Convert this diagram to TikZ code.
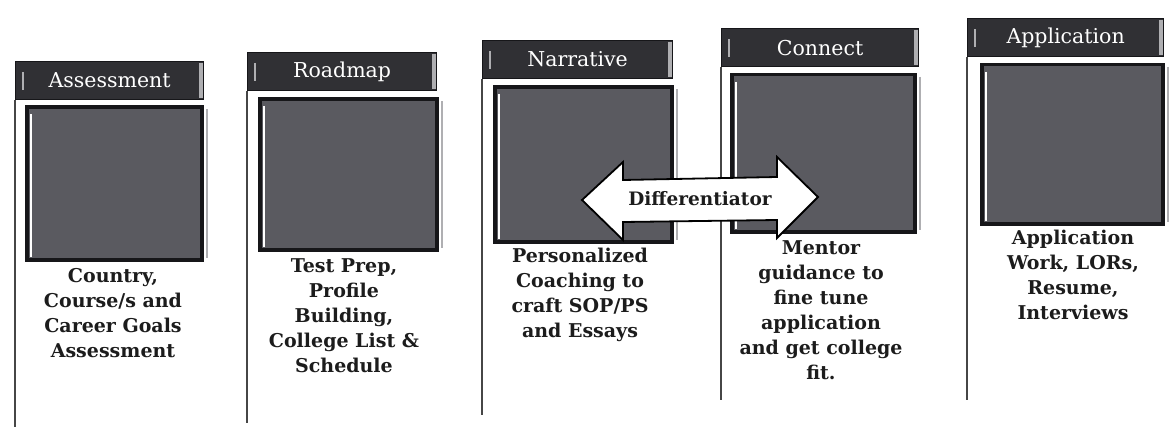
\documentclass[tikz,border=0pt]{standalone}
\usepackage{fontspec}
\setmainfont{DejaVu Serif}
\definecolor{hdr}{RGB}{48,48,52}
\definecolor{sq}{RGB}{90,90,96}
\definecolor{sqedge}{RGB}{22,22,25}
\definecolor{lite}{RGB}{175,175,178}
\definecolor{ink}{RGB}{28,28,28}
\definecolor{stemc}{RGB}{70,70,70}
\tikzset{
  hdrbox/.style={draw=sqedge, line width=1.2pt, fill=hdr, text=white, inner sep=0pt,
    anchor=north west, font=\fontsize{20.5}{24}\selectfont, minimum height=38pt},
  sqbox/.style={draw=sqedge, line width=3.5pt, fill=sq, inner sep=0pt, anchor=north west},
  hilite/.style={draw=white, line width=2.5pt},
  edgelite/.style={draw=lite, line width=4pt},
  stemline/.style={draw=stemc, line width=1.8pt},
  desc/.style={anchor=north, align=center, inner sep=0pt, text=ink,
    font=\fontsize{19}{25}\selectfont\bfseries},
  arrowshape/.style={draw=black, line width=1.8pt, fill=white, line join=miter},
  difftext/.style={inner sep=0pt, text=ink, font=\fontsize{18.5}{20}\selectfont\bfseries}
}
\begin{document}
\begin{tikzpicture}[x=1pt,y=-1pt]
\useasboundingbox (0,0) rectangle (1170,428);
\fill[white] (0,0) rectangle (1170,428);

% ---------- stage 1 ----------
\node[hdrbox, minimum width=188pt] (h1) at (15,61) {Assessment};
\node[sqbox, minimum width=175pt, minimum height=153pt] (s1) at (25,105) {};
\coordinate (e1) at (15,427);
% ---------- stage 2 ----------
\node[hdrbox, minimum width=189pt] (h2) at (247,52) {Roadmap};
\node[sqbox, minimum width=177pt, minimum height=151pt] (s2) at (258,97) {};
\coordinate (e2) at (247,423);
% ---------- stage 3 ----------
\node[hdrbox, minimum width=190pt] (h3) at (482,40) {Narrative};
\node[sqbox, minimum width=177pt, minimum height=155pt] (s3) at (493,85) {};
\coordinate (e3) at (482,415);
% ---------- stage 4 ----------
\node[hdrbox, minimum width=197pt] (h4) at (721,28) {Connect};
\node[sqbox, minimum width=183pt, minimum height=157pt] (s4) at (730,73) {};
\coordinate (e4) at (721,400);
% ---------- stage 5 ----------
\node[hdrbox, minimum width=196pt] (h5) at (967,18) {Application};
\node[sqbox, minimum width=181pt, minimum height=159pt] (s5) at (980,63) {};
\coordinate (e5) at (967,400);

\foreach \i in {1,...,5}{
  \draw[stemline] (h\i.south west) -- (e\i);
  \draw[edgelite] ([xshift=-3.5pt,yshift=-2pt]h\i.north east) -- ([xshift=-3.5pt,yshift=2pt]h\i.south east);
  \draw[draw=lite, line width=2pt] ([xshift=8pt,yshift=-11pt]h\i.north west) -- ([xshift=8pt,yshift=10pt]h\i.south west);
  \draw[hilite] ([xshift=6pt,yshift=-9pt]s\i.north west) -- ([xshift=6pt,yshift=5pt]s\i.south west);
  \draw[draw=lite, line width=2pt] ([xshift=3pt,yshift=-4pt]s\i.north east) -- ([xshift=3pt,yshift=4pt]s\i.south east);
}

% ---------- descriptions ----------
\node[desc] (t1) at (113,268) {Country,\\Course/s and\\Career Goals\\Assessment};
\node[desc] (t2) at (344,258) {Test Prep,\\Profile\\Building,\\College List \&\\Schedule};
\node[desc] (t3) at (580,248) {Personalized\\Coaching to\\craft SOP/PS\\and Essays};
\node[desc] (t4) at (821,240) {Mentor\\guidance to\\fine tune\\application\\and get college\\fit.};
\node[desc] (t5) at (1073,230) {Application\\Work, LORs,\\Resume,\\Interviews};

% ---------- differentiator double arrow ----------
\draw[arrowshape] (582,200) -- (623,162) -- (623,180) -- (777,177) -- (777,157)
  -- (818,197) -- (777,238) -- (777,220) -- (623,222) -- (623,240) -- cycle;
\node[difftext] (diff) at (700,199) {Differentiator};
\end{tikzpicture}
\end{document}
